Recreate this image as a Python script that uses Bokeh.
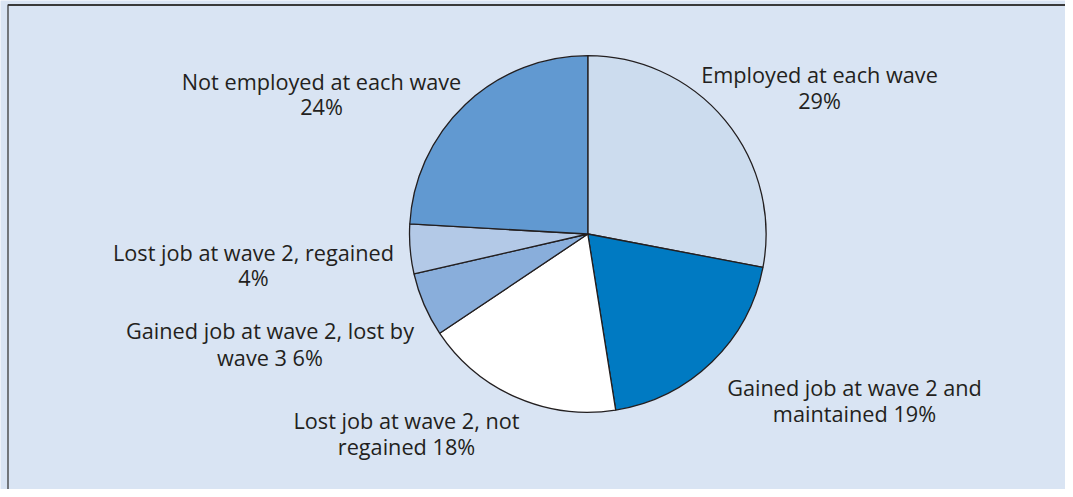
import numpy as np
from bokeh.plotting import figure
from bokeh.models import Range1d, ColumnDataSource
from bokeh.core.properties import value
from bokeh.embed import file_html
from bokeh.resources import INLINE

# ---- data ----
categories = ["Employed at each wave", "Gained job at wave 2 and maintained",
              "Lost job at wave 2, not regained", "Gained job at wave 2, lost by wave 3",
              "Lost job at wave 2, regained", "Not employed at each wave"]
# slice shares as drawn in the picture (percent)
shares = [28.0, 19.5, 18.1, 5.8, 4.5, 24.1]
# label text
label_line1 = ["Employed at each wave", "Gained job at wave 2 and", "Lost job at wave 2, not",
               "Gained job at wave 2, lost by", "Lost job at wave 2, regained", "Not employed at each wave"]
label_line2 = ["29%", "maintained 19%", "regained 18%", "wave 3 6%", "4%", "24%"]
colors = ["#ccdcee", "#007ac2", "#ffffff", "#89aedb", "#b3c9e7", "#6199d1"]

# ---- layout (pixel coordinates, y measured from top) ----
W, H = 1065, 489
def Y(ypix):
    return H - ypix

cx, cy, R = 587.3, Y(233.5), 178.3
label_x = [819, 854, 406, 269.5, 253, 321]
label_y1 = [74, 387, 420, 330, 252, 81]       # baselines of first lines
label_y2 = [100, 413, 445.5, 356.5, 277, 106]  # baselines of second lines

p = figure(width=W, height=H, output_backend="svg", toolbar_location=None,
           x_range=Range1d(0, W), y_range=Range1d(0, H), min_border=0)
p.axis.visible = False
p.grid.visible = False
p.outline_line_color = None
p.background_fill_color = "#d9e4f3"
p.border_fill_color = "#d9e4f3"

frac = np.array(shares) / np.sum(shares)
cum = np.concatenate([[0], np.cumsum(frac)])
start = np.pi / 2 - cum[:-1] * 2 * np.pi
end = np.pi / 2 - cum[1:] * 2 * np.pi

src = ColumnDataSource(dict(start=start, end=end, color=colors, cat=categories))
p.wedge(x=cx, y=cy, radius=R, radius_units="screen", start_angle="start", end_angle="end",
        direction="clock", fill_color="color", line_color="#231f20", line_width=1.3, source=src)

# frame lines (top and left)
p.line(x=[7.5, W], y=[Y(4.5), Y(4.5)], line_color="#3a3a3a", line_width=2)
p.line(x=[7.5, 7.5], y=[0, Y(4)], line_color="#3a3a3a", line_width=1.3)

lsrc = ColumnDataSource(dict(x=label_x, y1=[Y(v) for v in label_y1], y2=[Y(v) for v in label_y2],
                             t1=label_line1, t2=label_line2))
for yk, tk in (("y1", "t1"), ("y2", "t2")):
    p.text(x="x", y=yk, text=tk, source=lsrc, text_align="center", text_baseline="alphabetic",
           text_font=value("Open Sans"), text_font_size="21.7px", text_color="#231f20")

open("out.html", "w").write(file_html(p, INLINE))
